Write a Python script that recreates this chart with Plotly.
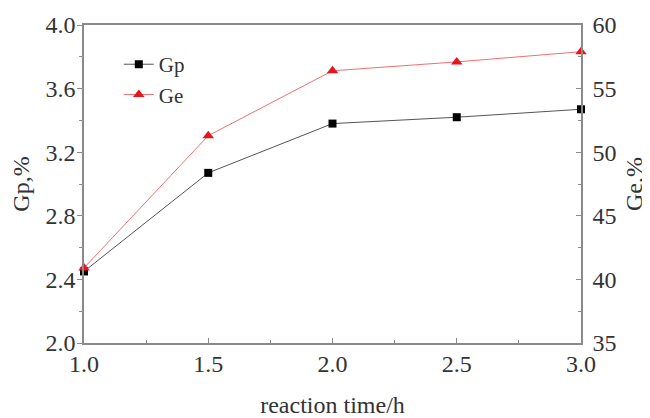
import plotly.graph_objects as go

time_h = [1.0, 1.5, 2.0, 2.5, 3.0]
gp = [2.45, 3.07, 3.38, 3.42, 3.47]
ge = [40.9, 51.3, 56.4, 57.1, 57.9]

font = "Liberation Serif, Times New Roman, serif"
axcol = "#8a8a8a"
txt = "#333333"

fig = go.Figure()
fig.add_trace(go.Scatter(x=time_h, y=gp, name="Gp", mode="lines+markers",
                         line=dict(color="#555555", width=1),
                         marker=dict(symbol="square", size=8, color="black"),
                         yaxis="y", cliponaxis=False))
fig.add_trace(go.Scatter(x=time_h, y=ge, name="Ge", mode="lines+markers",
                         line=dict(color="#f07070", width=1),
                         marker=dict(symbol="triangle-up", size=10, color="#e8141c"),
                         yaxis="y2", cliponaxis=False))

fig.update_layout(
    width=642, height=410,
    margin=dict(l=76, r=69, t=17, b=75),
    paper_bgcolor="white", plot_bgcolor="white",
    font=dict(family=font, size=24, color=txt),
    showlegend=True,
    legend=dict(x=0.07, y=0.94, xanchor="left", yanchor="top",
                bgcolor="rgba(0,0,0,0)", font=dict(size=21, family=font),
                tracegroupgap=0),
    xaxis=dict(range=[1.0, 3.0], dtick=0.5, tick0=1.0, tickformat=".1f",
               showgrid=False, zeroline=False, automargin=False,
               showline=True, linecolor=axcol, linewidth=1.5, mirror=True,
               ticks="inside", ticklen=5, tickcolor=axcol, ticklabelstandoff=-2,
               minor=dict(ticks="inside", dtick=0.25, ticklen=3, tickcolor=axcol),
               title=dict(text="reaction time/h", standoff=25,
                          font=dict(size=24, family=font))),
    yaxis=dict(range=[2.0, 4.0], dtick=0.4, tick0=2.0, tickformat=".1f",
               showgrid=False, zeroline=False, automargin=False,
               showline=True, linecolor=axcol, linewidth=1.5,
               ticks="outside", ticklen=5, tickcolor=axcol, ticklabelstandoff=-3,
               minor=dict(ticks="outside", dtick=0.2, ticklen=3, tickcolor=axcol),
               title=dict(text="Gp,%", standoff=14, font=dict(size=24, family=font))),
    yaxis2=dict(range=[35, 60], dtick=5, tick0=35, overlaying="y", side="right",
                showgrid=False, zeroline=False, automargin=False,
                showline=True, linecolor=axcol, linewidth=1.5,
                ticks="inside", ticklen=5, tickcolor=axcol, ticklabelstandoff=5,
                minor=dict(ticks="inside", dtick=2.5, ticklen=3, tickcolor=axcol),
                title=dict(text="Ge,%", standoff=10, font=dict(size=24, family=font))),
)
fig.write_html("out.html")
